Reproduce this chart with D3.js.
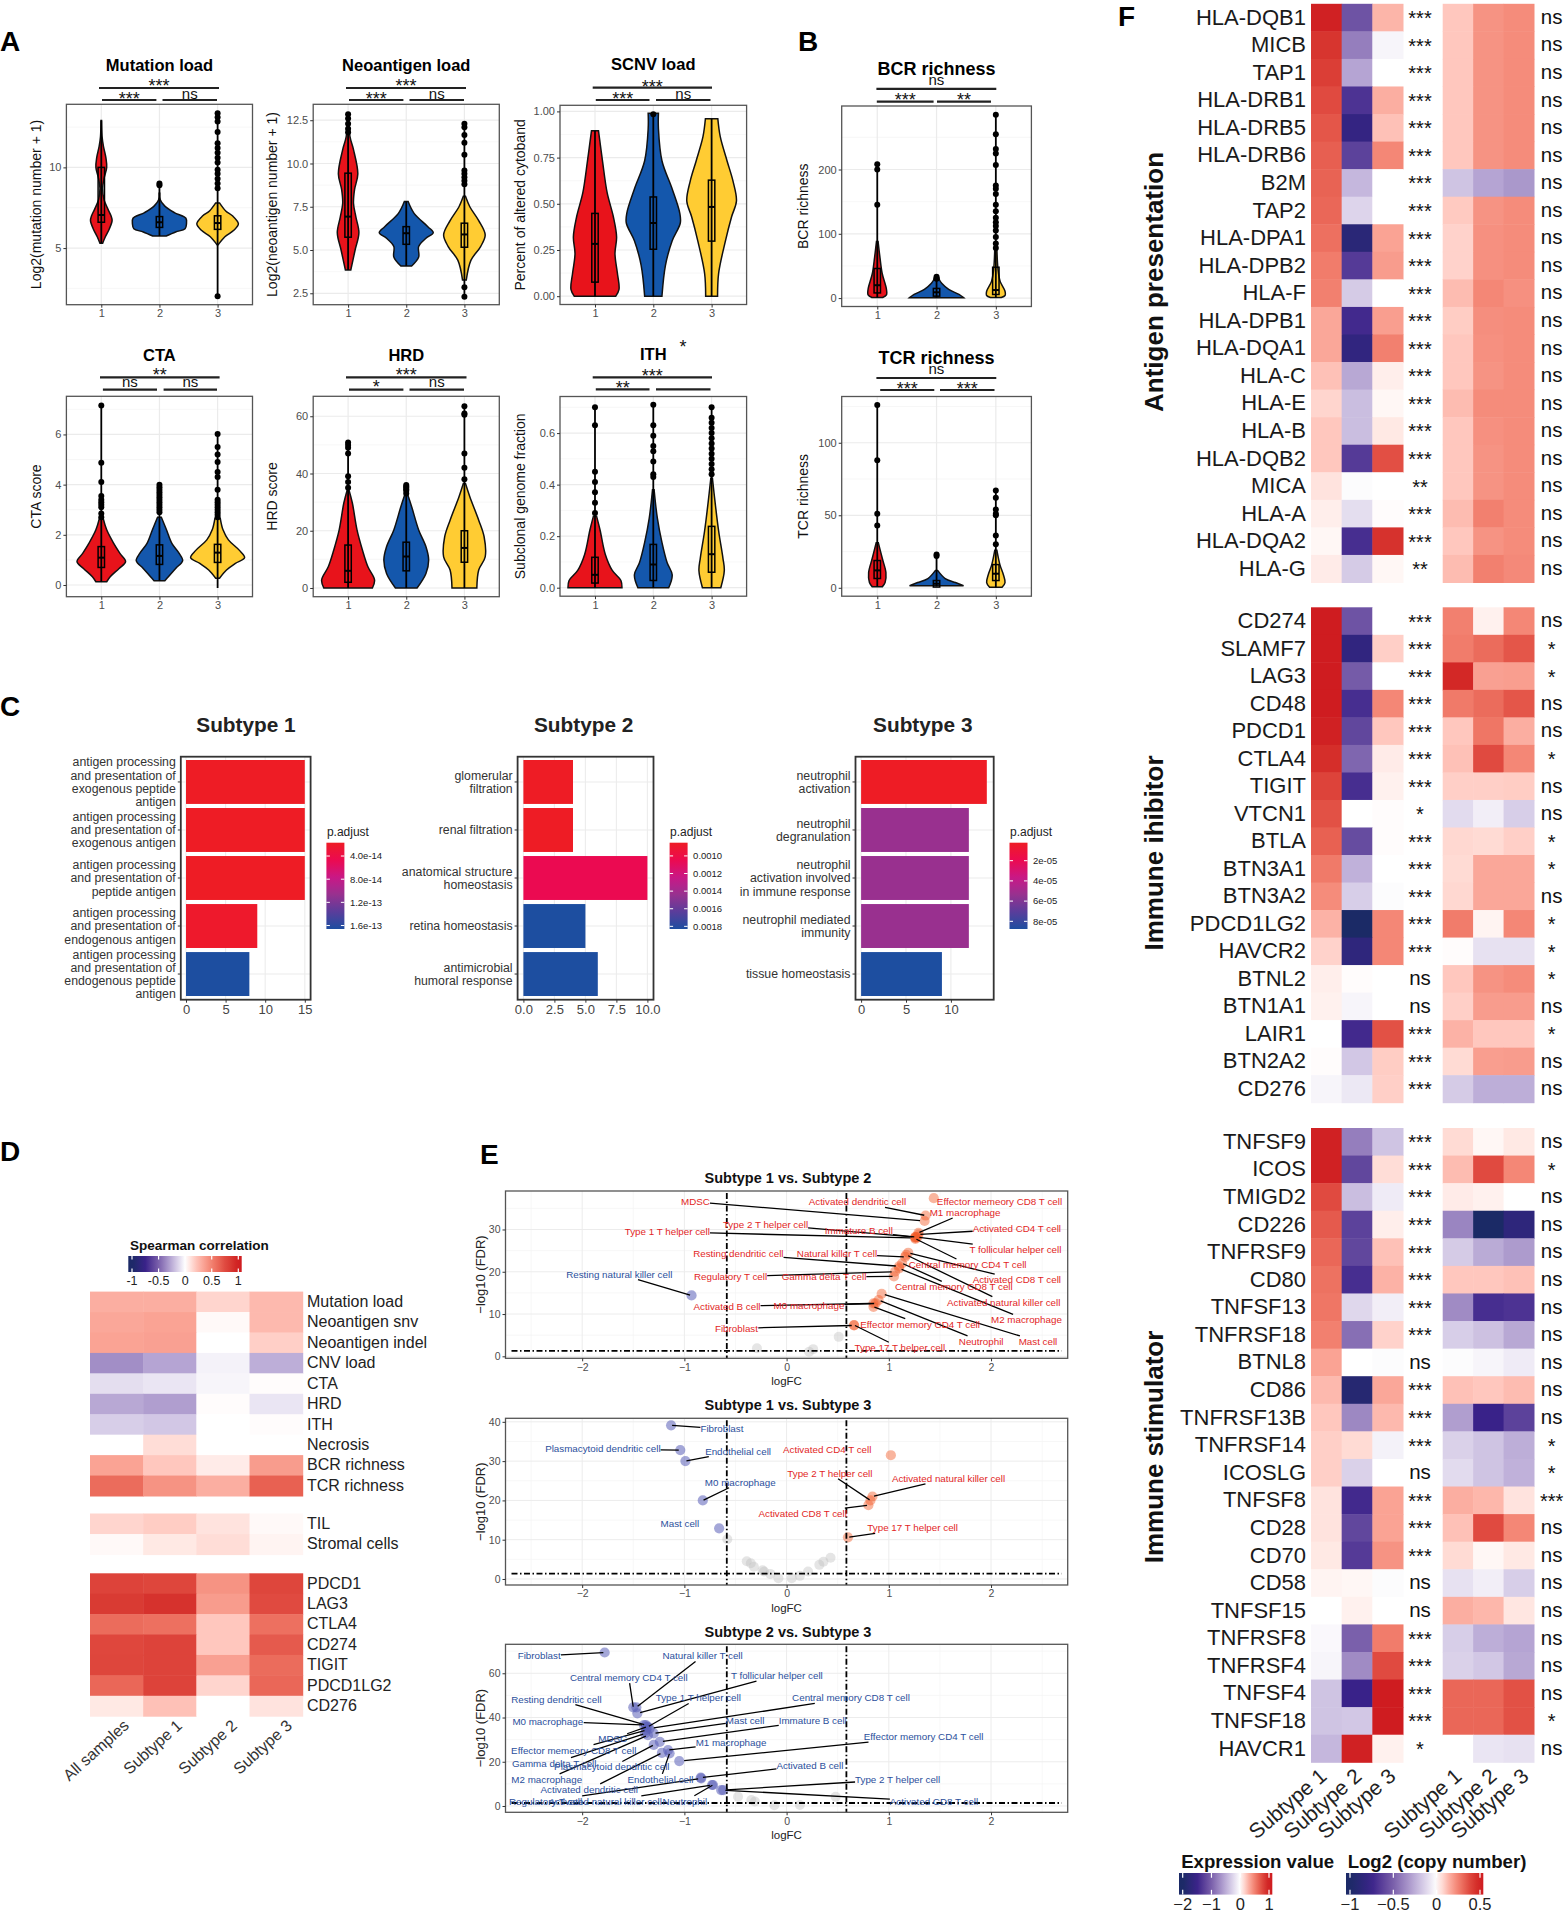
<!DOCTYPE html>
<html>
<head>
<meta charset="utf-8">
<script src="https://cdn.jsdelivr.net/npm/d3@7"></script>
<style>
  html, body { margin: 0; background: #fff; }
  svg { display: block; font-family: "Liberation Sans", Arial, sans-serif; }
  .tick text { font-family: "Liberation Sans", Arial, sans-serif; }
</style>
</head>
<body>
<svg id="fig" width="1564" height="1914"></svg>
<script>
// --- Panel A/B violins: curve = [value, relative half width], box = [q1, median, q3] ---

const mutationViolins = [
  { curve: [[12.9,.01],[11.9,.03],[11.3,.08],[10.6,.17],[10,.2],[9.3,.1],[8.7,.05],[8,.1],[7.4,.25],[7,.36],[6.7,.4],[6.2,.3],[5.7,.15],[5.3,.05]],
    box: [6.6,7.05,10], whisker: [5.3,12.9], dots: [] },
  { curve: [[8.4,.01],[8,.03],[7.6,.2],[7.2,.55],[6.85,.98],[6.5,1],[6.2,.95],[6,.6],[5.75,.25]],
    box: [6.28,6.6,6.95], whisker: [5.75,9], dots: [9,8.9] },
  { curve: [[7.8,.07],[7.3,.3],[7,.55],[6.5,.77],[6.1,.6],[5.7,.27],[5.2,.02]],
    box: [6.16,6.55,7], whisker: [2.02,13.35], dots: [13.35,13.1,12.85,12.2,11.5,11.2,10.9,10.6,10.3,9.85,9.6,9.3,9,8.7,2.02] }
];
const neoantigenViolins = [
  { curve: [[12.9,.01],[11.55,.07],[10.8,.2],[9.4,.36],[8.5,.24],[7.7,.2],[6.9,.29],[6,.4],[5,.26],[3.85,.1]],
    box: [5.74,6.93,9.44], whisker: [3.85,12.9], dots: [12.85,12.6,12.3,12,11.8] },
  { curve: [[7.8,.07],[7.12,.29],[6.35,.8],[6,1],[5.68,.73],[5.2,.46],[4.6,.46],[4.08,.2]],
    box: [5.33,5.97,6.35], whisker: [4.08,7.8], dots: [] },
  { curve: [[8.1,.04],[7.5,.2],[6.7,.53],[5.87,.77],[5.2,.6],[4.4,.24],[3.27,.07]],
    box: [5.16,5.9,6.55], whisker: [2.3,12.3], dots: [12.3,12.1,11.65,11.2,10.5,9.6,9.4,9.2,9,8.8,2.85,2.3] }
];
const scnvViolins = [
  { curve: [[.895,.13],[.73,.28],[.56,.45],[.43,.68],[.32,.8],[.23,.74],[.124,.83],[.037,.89],[0,.77]],
    box: [.076,.283,.448], whisker: [0,.895], dots: [] },
  { curve: [[.99,.19],[.906,.19],[.733,.32],[.58,.7],[.45,.98],[.396,1],[.3,.7],[.167,.45],[0,.32]],
    box: [.254,.396,.537], whisker: [0,.99], dots: [.985] },
  { curve: [[.96,.23],[.863,.32],[.733,.57],[.624,.79],[.515,.92],[.43,.74],[.298,.51],[.124,.26],[0,.22]],
    box: [.298,.483,.628], whisker: [0,.96], dots: [] }
];
const ctaViolins = [
  { curve: [[2.65,.07],[2.2,.2],[1.66,.46],[1.26,.69],[.93,.9],[.66,.66],[.33,.33],[.13,.2]],
    box: [.7,1.09,1.53], whisker: [.13,7.15], dots: [7.15,4.87,4.1,3.55,3.4,3.3,3.2,3.1,2.85,2.7] },
  { curve: [[2.7,.07],[2.2,.26],[1.66,.46],[1.26,.73],[.97,.86],[.66,.6],[.33,.33],[.17,.2]],
    box: [.82,1.16,1.6], whisker: [.17,4], dots: [4,3.9,3.8,3.7,3.6,3.5,3.4,3.3,3.2,3.1,3,2.9] },
  { curve: [[2.65,.1],[2.2,.2],[1.8,.4],[1.4,.79],[1.09,1],[.86,.66],[.6,.33],[.27,.07]],
    box: [.9,1.29,1.62], whisker: [-.12,6], dots: [6.02,5.5,5.2,4.9,4.5,4.3,3.8,3.4,3.3,3.2,3.1,3,2.9,2.8,2.7] }
];
const hrdViolins = [
  { curve: [[34,.04],[29.6,.16],[20.3,.33],[13.3,.53],[7.5,.73],[2.8,.98],[0,.9]],
    box: [2,6,15], whisker: [0,51], dots: [50.8,50,49,47,39,37,35] },
  { curve: [[33,.04],[28.4,.2],[20.3,.46],[14.4,.73],[9.8,.83],[5.1,.73],[0,.4]],
    box: [6,11,16], whisker: [0,36], dots: [36,35.5,35,34.5,34,33] },
  { curve: [[36.5,.04],[31.9,.2],[23.7,.53],[17.9,.73],[10.9,.77],[6.3,.53],[0,.46]],
    box: [9,14,20], whisker: [0,63.5], dots: [63.5,61,60.5,47,42,38] }
];
const ithViolins = [
  { curve: [[.277,.06],[.223,.19],[.13,.38],[.067,.64],[.028,.96],[0,1]],
    box: [.018,.05,.118], whisker: [0,.7], dots: [.7,.63,.45,.41,.37,.33,.29] },
  { curve: [[.38,.03],[.27,.15],[.176,.32],[.098,.51],[.05,.7],[0,.57]],
    box: [.028,.09,.168], whisker: [0,.71], dots: [.71,.63,.59,.55,.53,.49,.44,.43] },
  { curve: [[.425,.03],[.33,.13],[.22,.26],[.114,.42],[.067,.47],[0,.34]],
    box: [.06,.13,.238], whisker: [0,.7], dots: [.7,.66,.64,.62,.6,.58,.56,.54,.52,.5,.48,.46,.44] }
];
const bcrViolins = [
  { curve: [[88,.03],[63,.1],[38.6,.18],[13.7,.34],[5,.34],[1,.2]],
    box: [8,20,46], whisker: [1,208], dots: [208,200,145] },
  { curve: [[32,.06],[23,.19],[13.7,.45],[5.6,.83],[.6,1]],
    box: [3,9,15], whisker: [.6,33], dots: [33,31,30] },
  { curve: [[76,.04],[45,.08],[26,.16],[10.6,.34],[4,.34],[1,.2]],
    box: [5.6,12.5,48], whisker: [1,285], dots: [285,255,232,225,207,175,170,162,145,135,125,118,112,105,95,85,78] }
];
const tcrViolins = [
  { curve: [[31,.04],[20,.19],[10.5,.32],[3.6,.29],[.8,.19]],
    box: [6.4,12,18.8], whisker: [.8,126], dots: [126,88,51,43] },
  { curve: [[12,.04],[6.4,.32],[3.6,.7],[1.4,1]],
    box: [.5,2.8,5], whisker: [1,23], dots: [23,22] },
  { curve: [[25.8,.04],[16,.15],[9,.28],[3.6,.34],[.3,.23]],
    box: [5,9.7,16], whisker: [.3,67], dots: [67,62,54,51,50,36,30] }
];

// --- Panel C bars ---

const goTerms1 = [
  ['antigen processing','and presentation of','exogenous peptide','antigen'],
  ['antigen processing','and presentation of','exogenous antigen'],
  ['antigen processing','and presentation of','peptide antigen'],
  ['antigen processing','and presentation of','endogenous antigen'],
  ['antigen processing','and presentation of','endogenous peptide','antigen']
];
const goCounts1 = [15, 15, 15, 9, 8];
const goPadj1 = [1.7e-14, 1.7e-14, 1.7e-14, 2.2e-14, 1.66e-13];
const goLegend1 = [4e-14, 8e-14, 1.2e-13, 1.6e-13];
const goLegendText1 = ['4.0e-14', '8.0e-14', '1.2e-13', '1.6e-13'];

const goTerms2 = [
  ['glomerular','filtration'],
  ['renal filtration'],
  ['anatomical structure','homeostasis'],
  ['retina homeostasis'],
  ['antimicrobial','humoral response']
];
const goCounts2 = [4, 4, 10, 5, 6];
const goPadj2 = [.00085, .00085, .00105, .00183, .00183];
const goLegend2 = [.001, .0012, .0014, .0016, .0018];
const goLegendText2 = ['0.0010', '0.0012', '0.0014', '0.0016', '0.0018'];

const goTerms3 = [
  ['neutrophil','activation'],
  ['neutrophil','degranulation'],
  ['neutrophil','activation involved','in immune response'],
  ['neutrophil mediated','immunity'],
  ['tissue homeostasis']
];
const goCounts3 = [14, 12, 12, 12, 9];
const goPadj3 = [2.2e-6, 5.3e-5, 5.3e-5, 5.3e-5, 8.76e-5];
const goLegend3 = [2e-5, 4e-5, 6e-5, 8e-5];
const goLegendText3 = ['2e-05', '4e-05', '6e-05', '8e-05'];

// --- Panel D heatmap ---

const corrCols = ['All samples', 'Subtype 1', 'Subtype 2', 'Subtype 3'];
const corrRowsA = ['Mutation load','Neoantigen snv','Neoantigen indel','CNV load','CTA','HRD','ITH','Necrosis','BCR richness','TCR richness'];
const corrValsA = [
  [.3,.3,.15,.25],[.33,.35,.02,.25],[.35,.36,0,.17],[-.35,-.28,-.04,-.25],[-.1,-.08,-.03,.01],
  [-.27,-.3,.01,-.08],[-.15,-.17,0,.01],[0,.12,0,0],[.35,.2,.07,.38],[.6,.42,.3,.65]
];
const corrRowsB = ['TIL', 'Stromal cells'];
const corrValsB = [[.15,.18,.1,.02],[.02,.08,.12,.04]];
const corrRowsC = ['PDCD1','LAG3','CTLA4','CD274','TIGIT','PDCD1LG2','CD276'];
const corrValsC = [
  [.8,.78,.42,.78],[.85,.9,.38,.75],[.6,.58,.2,.58],[.77,.8,.2,.68],
  [.78,.8,.36,.6],[.62,.8,.15,.62],[.08,.22,0,.1]
];

// --- Panel E volcanoes: [cell, logFC, -log10 FDR]; spots = [cell, label logFC, label FDR, anchor, draw segment] ---

const volcano1 = [
  ['Effector memeory CD8 T cell',1.44,37.4],['Activated dendritic cell',1.36,33.3],['MDSC',1.35,32],['M1 macrophage',1.29,29.2],
  ['Activated CD4 T cell',1.29,28.8],['Type 2 T helper cell',1.26,28.2],['Immature  B cell',1.26,28.2],['Type 1 T helper cell',1.26,28],
  ['T follicular helper cell',1.28,28.2],['Central memory CD4 T cell',1.26,27.8],['Natural killer T cell',1.16,23.5],
  ['Activated CD8 T cell',1.19,24.5],['Activated natural killer cell',1.17,24],['Resting dendritic cell',1.1,21.3],
  ['Central memory CD8 T cell',1.13,22],['M2 macrophage',1.1,20.8],['Regulatory T cell',1.06,20],['Gamma delta T cell',1.05,18.9],
  ['Mast cell',.93,14.8],['Neutrophil',.9,13.3],['Activated B cell',.85,12.5],['M0 macrophage',.87,12.5],
  ['Effector memory CD4 T cell',.85,11.7],['Fibroblast',.66,7.3],['Type 17 T helper cell',.66,7.4],['Resting natural killer cell',-.93,14.4]
];
const volcanoGray1 = [[.51,4.6],[.26,1.7],[.22,1.1],[-.29,1.9]];
const labelSpots1 = [
  ['Effector memeory CD8 T cell',1.47,36.5,'start',false],['Activated dendritic cell',1.17,36.5,'end',true],['MDSC',-.75,36.5,'end',true],
  ['M1 macrophage',1.4,34,'start',true],['Activated CD4 T cell',1.82,30.2,'start',true],['Type 2 T helper cell',.21,31.2,'end',true],
  ['Immature  B cell',1.04,29.7,'end',true],['Type 1 T helper cell',-.75,29.4,'end',true],['T follicular helper cell',1.79,25.2,'start',true],
  ['Central memory CD4 T cell',1.195,21.7,'start',true],['Natural killer T cell',.885,24.3,'end',true],['Activated CD8 T cell',1.82,18.1,'start',true],
  ['Activated natural killer cell',1.57,12.8,'start',true],['Resting dendritic cell',-.03,24.2,'end',true],['Central memory CD8 T cell',1.06,16.4,'start',true],
  ['M2 macrophage',2,8.6,'start',true],['Regulatory T cell',-.19,18.8,'end',true],['Gamma delta T cell',.78,18.8,'end',true],
  ['Mast cell',2.27,3.5,'start',true],['Neutrophil',1.685,3.5,'start',true],['Activated B cell',-.255,11.8,'end',true],
  ['M0 macrophage',.565,12,'end',true],['Effector memory CD4 T cell',.72,7.6,'start',true],['Fibroblast',-.28,6.6,'end',true],
  ['Type 17 T helper cell',.665,2,'start',true],['Resting natural killer cell',-1.118,19.4,'end',true]
];

const volcano2 = [
  ['Fibroblast',-1.13,39.1],['Plasmacytoid dendritic cell',-1.04,32.8],['Endothelial cell',-.99,30],['M0 macrophage',-.82,20],['Mast cell',-.66,12.9],
  ['Activated CD4 T cell',1.02,31.5],['Type 2 T helper cell',.82,20],['Activated natural killer cell',.84,21],['Activated CD8 T cell',.8,18.8],['Type 17 T helper cell',.6,10.6]
];
const volcanoGray2 = [[-.58,10.1],[-.39,4.5],[-.35,4],[-.32,3.1],[-.235,2.2],[-.22,1.9],[-.16,1.3],[-.08,.2],[.05,.2],[.13,.8],[.21,1.9],[.32,3.6],[.36,4.4],[.43,5.4]];
const labelSpots2 = [
  ['Fibroblast',-.843,38.2,'start',true],['Plasmacytoid dendritic cell',-1.233,33.1,'end',true],['Endothelial cell',-.797,32.5,'start',true],
  ['M0 macrophage',-.8,24.6,'start',true],['Mast cell',-.855,14.2,'end',false],['Activated CD4 T cell',.83,32.9,'end',false],
  ['Type 2 T helper cell',.84,26.9,'end',true],['Activated natural killer cell',1.03,25.6,'start',true],['Activated CD8 T cell',.59,16.6,'end',true],
  ['Type 17 T helper cell',.79,13,'start',true]
];

const volcano3 = [
  ['Fibroblast',-1.78,69.4],['Natural killer T cell',-1.47,44.6],['Central memory CD4 T cell',-1.5,44.6],['T follicular helper cell',-1.46,41.9],
  ['Resting dendritic cell',-1.376,36.6],['Type 1 T helper cell',-1.357,35.8],['Central memory CD8 T cell',-1.34,35],['M0 macrophage',-1.396,36.6],
  ['Mast cell',-1.3,32.8],['Immature  B cell',-1.24,29],['MDSC',-1.37,35.8],['M1 macrophage',-1.16,25.3],['Effector memeory CD8 T cell',-1.376,34.3],
  ['Effector memory CD4 T cell',-1.05,20.3],['Gamma delta T cell',-1.385,32.8],['Plasmacytoid dendritic cell',-1.3,27.6],['M2 macrophage',-1.357,32],
  ['Endothelial cell',-1.145,23.8],['Activated dendritic cell',-1.22,24],['Activated B cell',-.84,12.8],['Type 2 T helper cell',-.62,7.2],
  ['Activated CD8 T cell',-.64,7.2],['Regulatory T cell',-.835,12.5],['Activated natural killer cell',-.73,9.5],['Neutrophil',-.72,9.5]
];
const volcanoGray3 = [[-.475,4.2],[-.345,2.7],[-.31,2],[-.12,.3],[.13,.45],[.48,4.2]];
const labelSpots3 = [
  ['Fibroblast',-2.21,67.8,'end',true],['Natural killer T cell',-1.214,67.8,'start',true],['Central memory CD4 T cell',-2.12,58,'start',true],
  ['T follicular helper cell',-.545,58.9,'start',true],['Resting dendritic cell',-1.81,48.3,'end',true],['Type 1 T helper cell',-1.28,48.8,'start',true],
  ['Central memory CD8 T cell',.054,48.8,'start',true],['M0 macrophage',-1.99,38.3,'end',true],['Mast cell',-.595,38.6,'start',true],
  ['Immature  B cell',-.077,38.6,'start',true],['MDSC',-1.56,30.3,'end',true],['M1 macrophage',-.89,28.6,'start',true],
  ['Effector memeory CD8 T cell',-1.47,25.2,'end',true],['Effector memory CD4 T cell',.754,31.3,'start',true],['Gamma delta T cell',-1.86,19.3,'end',true],
  ['Plasmacytoid dendritic cell',-1.145,17.6,'end',true],['M2 macrophage',-2,12,'end',true],['Endothelial cell',-.912,12,'end',true],
  ['Activated dendritic cell',-1.454,7.5,'end',true],['Activated B cell',-.1,18.5,'start',true],['Type 2 T helper cell',.67,12,'start',true],
  ['Activated CD8 T cell',1.01,2,'start',true],['Regulatory T cell',-2,2.1,'end',true],['Activated natural killer cell',-1.22,2.1,'end',true],
  ['Neutrophil',-.777,2.1,'end',true]
];

// --- Panel F heatmaps (values on the shared -1..1 colour range) ---

const subtypeCols = ['Subtype 1', 'Subtype 2', 'Subtype 3'];

const antigenGenes = ['HLA-DQB1','MICB','TAP1','HLA-DRB1','HLA-DRB5','HLA-DRB6','B2M','TAP2','HLA-DPA1','HLA-DPB2','HLA-F','HLA-DPB1','HLA-DQA1','HLA-C','HLA-E','HLA-B','HLA-DQB2','MICA','HLA-A','HLA-DQA2','HLA-G'];
const antigenExpr = [[.98,-.55,.27],[.88,-.4,-.03],[.83,-.28,0],[.75,-.68,.3],[.7,-.8,.22],[.66,-.62,.47],[.64,-.22,0],[.62,-.13,0],[.58,-.88,.35],[.52,-.65,.38],[.5,-.16,0],[.33,-.72,.37],[.33,-.82,.5],[.22,-.27,.06],[.15,-.2,.03],[.2,-.2,.08],[.2,-.65,.73],[.1,-.01,0],[.06,-.1,.01],[.03,-.7,.9],[.07,-.16,.03]];
const antigenCopy = [[.2,.42,.45],[.2,.42,.45],[.2,.42,.45],[.2,.42,.45],[.2,.42,.45],[.2,.42,.45],[-.18,-.28,-.32],[.19,.42,.45],[.16,.43,.45],[.16,.43,.45],[.24,.47,.43],[.18,.44,.45],[.2,.43,.45],[.2,.42,.45],[.24,.45,.45],[.2,.43,.45],[.2,.42,.45],[.2,.42,.45],[.24,.5,.45],[.2,.42,.45],[.24,.5,.46]];
const antigenSigExpr = ['***','***','***','***','***','***','***','***','***','***','***','***','***','***','***','***','***','**','***','***','**'];
const antigenSigCopy = ['ns','ns','ns','ns','ns','ns','ns','ns','ns','ns','ns','ns','ns','ns','ns','ns','ns','ns','ns','ns','ns'];

const inhibitorGenes = ['CD274','SLAMF7','LAG3','CD48','PDCD1','CTLA4','TIGIT','VTCN1','BTLA','BTN3A1','BTN3A2','PDCD1LG2','HAVCR2','BTNL2','BTN1A1','LAIR1','BTN2A2','CD276'];
const inhibitorExpr = [[1,-.55,0],[1,-.82,.17],[1,-.52,0],[1,-.7,.47],[.98,-.6,.2],[.92,-.48,.07],[.8,-.7,.05],[.72,0,.01],[.65,-.58,.01],[.53,-.24,0],[.45,-.15,-.01],[.28,-1,.47],[.16,-.84,.47],[.06,.01,0],[.05,-.03,0],[0,-.72,.72],[.01,-.17,.18],[-.03,-.07,.17]];
const inhibitorCopy = [[.5,.05,.47],[.52,.6,.7],[.95,.36,.37],[.53,.6,.7],[.2,.55,.3],[.22,.75,.47],[.17,.17,.18],[-.11,-.05,-.15],[.14,.13,.17],[.13,.33,.33],[.14,.33,.33],[.52,.04,.47],[.01,-.09,-.09],[.2,.42,.45],[.17,.38,.38],[.28,.2,.2],[.13,.37,.38],[-.16,-.25,-.25]];
const inhibitorSigExpr = ['***','***','***','***','***','***','***','*','***','***','***','***','***','ns','ns','***','***','***'];
const inhibitorSigCopy = ['ns','*','*','ns','ns','*','ns','ns','*','*','ns','*','*','*','ns','*','ns','ns'];

const stimulatorGenes = ['TNFSF9','ICOS','TMIGD2','CD226','TNFRSF9','CD80','TNFSF13','TNFRSF18','BTNL8','CD86','TNFRSF13B','TNFRSF14','ICOSLG','TNFSF8','CD28','CD70','CD58','TNFSF15','TNFRSF8','TNFRSF4','TNFSF4','TNFSF18','HAVCR1'];
const stimulatorExpr = [[.98,-.4,-.18],[.98,-.6,.12],[.75,-.2,-.06],[.68,-.62,.06],[.62,-.6,.22],[.57,-.7,.28],[.55,-.12,-.05],[.5,-.45,.16],[.35,0,-.01],[.25,-.92,.33],[.2,-.37,.25],[.17,.13,-.04],[.17,-.14,0],[.1,-.72,.35],[.1,-.6,.35],[.08,-.65,.42],[.04,.03,-.01],[0,.05,0],[-.02,-.5,.52],[-.03,-.36,.75],[-.18,-.75,1],[-.18,-.17,1],[-.22,.98,.05]];
const stimulatorCopy = [[.13,.03,.08],[.24,.75,.47],[.07,.05,0],[-.38,-1,-.85],[-.16,-.26,-.31],[.2,.2,.22],[-.36,-.7,-.68],[-.15,-.19,-.27],[-.01,-.03,-.06],[.22,.2,.24],[-.3,-.75,-.62],[-.14,-.18,-.25],[-.11,-.18,-.24],[.3,.26,.1],[.22,.75,.47],[.13,.03,.08],[-.09,-.05,-.15],[.3,.26,.09],[-.15,-.25,-.28],[-.14,-.17,-.27],[.62,.62,.72],[.62,.62,.72],[0,-.08,-.09]];
const stimulatorSigExpr = ['***','***','***','***','***','***','***','***','ns','***','***','***','ns','***','***','***','ns','ns','***','***','***','***','*'];
const stimulatorSigCopy = ['ns','*','ns','ns','ns','ns','ns','ns','ns','ns','ns','*','*','***','ns','ns','ns','ns','ns','ns','ns','*','ns'];

// --- Shared styling ---

const svg = d3.select('#fig');
const FONT_GREY = '#4d4d4d';
const violinFills = ['#e8131b', '#1457ac', '#ffcc33'];

const heatColor = d3.scaleLinear()
  .domain([-1, -.75, -.5, -.25, 0, .25, .5, .75, 1])
  .range(['#1b2a66', '#392289', '#7a60ab', '#bdaed8', '#ffffff', '#fdb9ae', '#f2806f', '#e04a40', '#cf1c20'])
  .interpolate(d3.interpolateLab)
  .clamp(true);

const padjColor = d3.scaleLinear()
  .domain([0, .2, .42, .6, .8, 1])
  .range(['#ee1c25', '#ec0a50', '#c6198a', '#98318f', '#5a3d9b', '#1d4ea0'])
  .clamp(true);

function txt(g, x, y, s, o = {}) {
  return g.append('text').attr('x', x).attr('y', y).text(s)
    .attr('font-size', o.size || 12)
    .attr('font-weight', o.weight || 'normal')
    .attr('fill', o.fill || '#000')
    .attr('text-anchor', o.anchor || 'middle')
    .attr('dy', o.dy === undefined ? '.35em' : o.dy);
}

function vText(g, x, y, s, o = {}) {
  return txt(g, 0, 0, s, o).attr('transform', `translate(${x},${y}) rotate(-90)`);
}

// asterisks sit high in the em box, so place by glyph centre
function sigText(g, x, yc, s, size) {
  const base = yc + (s.includes('*') ? .55 : .26) * size;
  return txt(g, x, base, s, { size, dy: 0, fill: '#111' });
}

function styleAxis(a, size, fill) {
  a.select('.domain').remove();
  a.selectAll('.tick text').attr('font-size', size).attr('fill', fill);
  a.selectAll('.tick line').attr('stroke', '#333');
}

// --- Panel A/B ---

const violinPanels = [
  { title: 'Mutation load', ylab: 'Log2(mutation number + 1)', vals: mutationViolins, box: [66.4,252.5,104.3,304.7], dom: [1.49,13.91], ticks: [5,10], fmt: 'd',
    titleY: 65, titleSize: 16.5, labX: 35.7, brk: { y: [88,100], t: [82,95], x: [99,219,102,156.4,162.5,217], s: ['***','***','ns'] } },
  { title: 'Neoantigen load', ylab: 'Log2(neoantigen number + 1)', vals: neoantigenViolins, box: [313.2,499.3,104.3,304.7], dom: [1.84,13.42], ticks: [2.5,5,7.5,10,12.5], fmt: '.1f',
    titleY: 65, titleSize: 16.5, labX: 272, brk: { y: [88,100], t: [82,95], x: [346,466,349,403.4,409.5,464], s: ['***','***','ns'] } },
  { title: 'SCNV load', ylab: 'Percent of altered cytoband', vals: scnvViolins, box: [560,746.6,105.3,304.5], dom: [-.045,1.033], ticks: [0,.25,.5,.75,1], fmt: '.2f',
    titleY: 64.3, titleSize: 16.5, labX: 519.6, brk: { y: [87.6,100], t: [82.8,94.8], x: [592.7,712,595.8,649.5,656,710.5], s: ['***','***','ns'] } },
  { title: 'CTA', ylab: 'CTA score', vals: ctaViolins, box: [66.4,252.5,396.3,596.7], dom: [-.466,7.52], ticks: [0,2,4,6], fmt: 'd',
    titleY: 355, titleSize: 16.5, labX: 35.7, brk: { y: [377.3,389.7], t: [371,383], x: [100,219.6,102.9,157,163.6,217], s: ['**','ns','ns'] } },
  { title: 'HRD', ylab: 'HRD score', vals: hrdViolins, box: [313.2,499.3,396.3,596.7], dom: [-3.04,66.97], ticks: [0,20,40,60], fmt: 'd',
    titleY: 355, titleSize: 16.5, labX: 272, brk: { y: [377.3,389.7], t: [371,383], x: [346,466.5,349,403.4,409.5,464], s: ['***','*','ns'] } },
  { title: 'ITH', ylab: 'Subclonal genome fraction', vals: ithViolins, box: [560,746.6,396.5,596.2], dom: [-.033,.742], ticks: [0,.2,.4,.6], fmt: '.1f',
    titleY: 354, titleSize: 16.5, labX: 519.6, brk: { y: [377.3,389.3], t: [371.6,383.7], x: [592.7,712,595.8,649.5,656,710.5], s: ['***','**',''] } },
  { title: 'BCR richness', ylab: 'BCR richness', vals: bcrViolins, box: [841.7,1031.4,106,306.5], dom: [-13.1,298.8], ticks: [0,100,200], fmt: 'd',
    titleY: 69, titleSize: 18, labX: 803.4, brk: { y: [88.8,101.6], t: [81,96], x: [876.4,996.3,876.8,933.6,937,991], s: ['ns','***','**'] } },
  { title: 'TCR richness', ylab: 'TCR richness', vals: tcrViolins, box: [841.7,1031.4,396.5,596.2], dom: [-5.8,131.9], ticks: [0,50,100], fmt: 'd',
    titleY: 357.6, titleSize: 18, labX: 803.4, brk: { y: [378,390], t: [369.6,385], x: [876.4,996.3,880.2,934.3,940,994.5], s: ['ns','***','***'] } }
];

function drawViolinPanel(p) {
  const g = svg.append('g');
  const [x0, x1, y0, y1] = p.box;
  const x = d3.scaleLinear().domain([.4, 3.6]).range([x0, x1]);
  const y = d3.scaleLinear().domain(p.dom).range([y1, y0]);
  const halfWidth = d3.scaleLinear().domain([0, 1]).range([0, 27]);

  // grid
  const step = p.ticks[1] - p.ticks[0];
  const minors = d3.range(-1, p.ticks.length).map(i => p.ticks[0] + (i + .5) * step)
    .filter(v => v > p.dom[0] && v < p.dom[1]);
  g.selectAll('.minor').data(minors).join('line').attr('class', 'minor')
    .attr('x1', x0).attr('x2', x1).attr('y1', d => y(d)).attr('y2', d => y(d))
    .attr('stroke', '#f3f3f3').attr('stroke-width', .7);
  g.selectAll('.major').data(p.ticks).join('line').attr('class', 'major')
    .attr('x1', x0).attr('x2', x1).attr('y1', d => y(d)).attr('y2', d => y(d))
    .attr('stroke', '#ebebeb').attr('stroke-width', 1.2);
  g.selectAll('.majorx').data([1, 2, 3]).join('line').attr('class', 'majorx')
    .attr('y1', y0).attr('y2', y1).attr('x1', d => x(d)).attr('x2', d => x(d))
    .attr('stroke', '#ebebeb').attr('stroke-width', 1.2);

  p.vals.forEach((v, i) => {
    const cx = x(i + 1);
    const area = d3.area().curve(d3.curveCatmullRom)
      .y(d => y(d[0]))
      .x0(d => cx - halfWidth(d[1]))
      .x1(d => cx + halfWidth(d[1]));
    g.append('path').attr('d', area(v.curve))
      .attr('fill', violinFills[i]).attr('stroke', '#111').attr('stroke-width', 1.5);
    g.append('line').attr('x1', cx).attr('x2', cx)
      .attr('y1', y(v.whisker[0])).attr('y2', y(v.whisker[1]))
      .attr('stroke', '#000').attr('stroke-width', 1.8);
    g.selectAll(null).data(v.dots).join('circle')
      .attr('cx', cx).attr('cy', d => y(d)).attr('r', 3).attr('fill', '#000');
    g.append('rect').attr('x', cx - 3.2).attr('width', 6.4)
      .attr('y', y(v.box[2])).attr('height', y(v.box[0]) - y(v.box[2]))
      .attr('fill', 'none').attr('stroke', '#000').attr('stroke-width', 1.5);
    g.append('line').attr('x1', cx - 3.2).attr('x2', cx + 3.2)
      .attr('y1', y(v.box[1])).attr('y2', y(v.box[1]))
      .attr('stroke', '#000').attr('stroke-width', 2);
  });

  g.append('rect').attr('x', x0).attr('y', y0).attr('width', x1 - x0).attr('height', y1 - y0)
    .attr('fill', 'none').attr('stroke', '#555').attr('stroke-width', 1.3);

  const ax = g.append('g').attr('transform', `translate(${x0},0)`)
    .call(d3.axisLeft(y).tickValues(p.ticks).tickFormat(d3.format(p.fmt)).tickSize(3).tickPadding(2));
  styleAxis(ax, 11, FONT_GREY);
  const bx = g.append('g').attr('transform', `translate(0,${y1})`)
    .call(d3.axisBottom(x).tickValues([1, 2, 3]).tickFormat(d3.format('d')).tickSize(3).tickPadding(2));
  styleAxis(bx, 11, FONT_GREY);

  txt(g, (x0 + x1) / 2, p.titleY, p.title, { size: p.titleSize, weight: 'bold' });
  vText(g, p.labX, (y0 + y1) / 2, p.ylab, { size: 14, fill: '#111' });

  // significance brackets
  const b = p.brk;
  [[b.x[0], b.x[1], b.y[0]], [b.x[2], b.x[3], b.y[1]], [b.x[4], b.x[5], b.y[1]]].forEach(s => {
    g.append('line').attr('x1', s[0]).attr('x2', s[1]).attr('y1', s[2]).attr('y2', s[2])
      .attr('stroke', '#222').attr('stroke-width', 2.2);
  });
  sigText(g, (b.x[0] + b.x[1]) / 2, b.t[0], b.s[0], b.s[0] === 'ns' ? 15 : 18);
  sigText(g, (b.x[2] + b.x[3]) / 2, b.t[1], b.s[1], b.s[1] === 'ns' ? 15 : 18);
  if (b.s[2]) sigText(g, (b.x[4] + b.x[5]) / 2, b.t[1], b.s[2], b.s[2] === 'ns' ? 15 : 18);
}

violinPanels.forEach(drawViolinPanel);
sigText(svg, 683, 343.5, '*', 18);

// --- Panel C ---

const barPanels = [
  { title: 'Subtype 1', titleX: 246, terms: goTerms1, counts: goCounts1, padj: goPadj1, box: [180.8,310.6], zero: 186, perUnit: 7.92, ticks: [0,5,10,15], fmt: 'd',
    legX: 326.4, legDom: [1.7e-14,1.66e-13], legVals: goLegend1, legText: goLegendText1 },
  { title: 'Subtype 2', titleX: 583.7, terms: goTerms2, counts: goCounts2, padj: goPadj2, box: [517.6,653.5], zero: 523.4, perUnit: 12.4, ticks: [0,2.5,5,7.5,10], fmt: '.1f',
    legX: 669.6, legDom: [.00085,.00183], legVals: goLegend2, legText: goLegendText2 },
  { title: 'Subtype 3', titleX: 922.8, terms: goTerms3, counts: goCounts3, padj: goPadj3, box: [855.5,993.7], zero: 861.1, perUnit: 8.98, ticks: [0,5,10], fmt: 'd',
    legX: 1009.5, legDom: [2.2e-6,8.76e-5], legVals: goLegend3, legText: goLegendText3 }
];

const gradC = svg.append('defs').append('linearGradient').attr('id', 'padjGrad')
  .attr('x1', 0).attr('x2', 0).attr('y1', 0).attr('y2', 1);
d3.range(0, 1.01, .1).forEach(t => gradC.append('stop').attr('offset', t).attr('stop-color', padjColor(t)));

function drawBarPanel(p) {
  const g = svg.append('g');
  const [x0, x1] = p.box, y0 = 756.7, y1 = 999.7;
  const x = d3.scaleLinear()
    .domain([(x0 - p.zero) / p.perUnit, (x1 - p.zero) / p.perUnit]).range([x0, x1]);
  const y = d3.scaleBand().domain(d3.range(p.terms.length)).range([760, 996]).paddingInner(.085);
  const colorT = d3.scaleLinear().domain(p.legDom).range([0, 1]);

  g.selectAll('.gx').data(p.ticks).join('line').attr('class', 'gx')
    .attr('x1', d => x(d)).attr('x2', d => x(d)).attr('y1', y0).attr('y2', y1)
    .attr('stroke', '#ececec').attr('stroke-width', 1.1);
  g.selectAll('.gy').data(p.terms).join('line').attr('class', 'gy')
    .attr('x1', x0).attr('x2', x1)
    .attr('y1', (d, i) => y(i) + y.bandwidth() / 2).attr('y2', (d, i) => y(i) + y.bandwidth() / 2)
    .attr('stroke', '#ececec').attr('stroke-width', 1.1);

  g.selectAll('.bar').data(p.counts).join('rect').attr('class', 'bar')
    .attr('x', x(0)).attr('width', d => x(d) - x(0))
    .attr('y', (d, i) => y(i)).attr('height', y.bandwidth())
    .attr('fill', (d, i) => padjColor(colorT(p.padj[i])));

  g.append('rect').attr('x', x0).attr('y', y0).attr('width', x1 - x0).attr('height', y1 - y0)
    .attr('fill', 'none').attr('stroke', '#333').attr('stroke-width', 1.8);

  const bx = g.append('g').attr('transform', `translate(0,${y1})`)
    .call(d3.axisBottom(x).tickValues(p.ticks).tickFormat(d3.format(p.fmt)).tickSize(3).tickPadding(2));
  styleAxis(bx, 13, '#444');

  // term labels, wrapped as in the source
  p.terms.forEach((lines, i) => {
    const cy = y(i) + y.bandwidth() / 2;
    g.append('line').attr('x1', x0 - 3).attr('x2', x0).attr('y1', cy).attr('y2', cy).attr('stroke', '#333');
    lines.forEach((ln, j) => {
      txt(g, x0 - 5, cy + (j - (lines.length - 1) / 2) * 13.2, ln, { size: 12.3, anchor: 'end', fill: '#333' });
    });
  });

  txt(g, p.titleX, 725, p.title, { size: 20.8, weight: 'bold', fill: '#222' });

  // colour legend
  const legH = d3.scaleLinear().domain(p.legDom).range([842.7, 929]);
  txt(g, p.legX + .5, 832, 'p.adjust', { size: 12, anchor: 'start', fill: '#222' });
  g.append('rect').attr('x', p.legX).attr('y', 842.7).attr('width', 18).attr('height', 86.3).attr('fill', 'url(#padjGrad)');
  p.legVals.forEach((v, i) => {
    const ty = legH(v);
    g.append('line').attr('x1', p.legX).attr('x2', p.legX + 3.5).attr('y1', ty).attr('y2', ty).attr('stroke', '#fff');
    g.append('line').attr('x1', p.legX + 14.5).attr('x2', p.legX + 18).attr('y1', ty).attr('y2', ty).attr('stroke', '#fff');
    txt(g, p.legX + 23.5, ty, p.legText[i], { size: 9.5, anchor: 'start', fill: '#222' });
  });
}

barPanels.forEach(drawBarPanel);

// --- Heatmap helper (D and F) ---

function drawHeat(g, rows, cols, vals, x0, x1, y0, y1) {
  const x = d3.scaleBand().domain(cols).range([x0, x1]);
  const y = d3.scaleBand().domain(rows).range([y0, y1]);
  rows.forEach((r, i) => {
    g.selectAll(null).data(vals[i]).join('rect')
      .attr('x', (d, j) => x(cols[j])).attr('y', y(r))
      .attr('width', x.bandwidth() + .5).attr('height', y.bandwidth() + .5)
      .attr('fill', d => heatColor(d));
  });
  return { x, y };
}

function colorBar(id, g, x0, x1, y0, y1, tickVals, tickText, tickX, norm, labelY, labelSize) {
  const pos = d3.scaleLinear().domain([tickVals[0], tickVals[tickVals.length - 1]])
    .range([tickX[0], tickX[1]]);
  const grad = svg.select('defs').append('linearGradient').attr('id', id);
  d3.range(0, 1.001, .05).forEach(t => {
    const v = pos.invert(x0 + t * (x1 - x0));
    grad.append('stop').attr('offset', t).attr('stop-color', heatColor(norm(v)));
  });
  g.append('rect').attr('x', x0).attr('y', y0).attr('width', x1 - x0).attr('height', y1 - y0)
    .attr('fill', `url(#${id})`);
  tickVals.forEach((v, i) => {
    const tx = pos(v), tick = (y1 - y0) * .22;
    g.append('line').attr('x1', tx).attr('x2', tx).attr('y1', y0).attr('y2', y0 + tick).attr('stroke', '#fff').attr('stroke-width', 1.2);
    g.append('line').attr('x1', tx).attr('x2', tx).attr('y1', y1 - tick).attr('y2', y1).attr('stroke', '#fff').attr('stroke-width', 1.2);
    txt(g, tx, labelY, tickText[i], { size: labelSize, fill: '#222' });
  });
}

// --- Panel D ---

{
  const g = svg.append('g');
  const blocks = [
    [corrRowsA, corrValsA, 1291.6, 1496],
    [corrRowsB, corrValsB, 1513.5, 1554.6],
    [corrRowsC, corrValsC, 1573.3, 1716.2]
  ];
  blocks.forEach(([rows, vals, y0, y1]) => {
    const { y } = drawHeat(g, rows, corrCols, vals, 90, 302.7, y0, y1);
    const a = g.append('g').attr('transform', 'translate(303,0)')
      .call(d3.axisRight(y).tickSize(0).tickPadding(4));
    styleAxis(a, 16, '#222');
  });
  const colEnds = d3.scalePoint().domain(corrCols).range([128, 293]);
  corrCols.forEach(c => {
    txt(g, 0, 0, c, { size: 16, anchor: 'end', fill: '#333', dy: 0 })
      .attr('transform', `translate(${c === 'All samples' ? 130 : colEnds(c)},1727) rotate(-42)`);
  });
  txt(g, 199.3, 1245, 'Spearman correlation', { size: 13.5, weight: 'bold', fill: '#111' });
  colorBar('corrGrad', g, 128.3, 241.7, 1256, 1272, [-1,-.5,0,.5,1], ['-1','-0.5','0','0.5','1'], [132,238.3], v => v, 1280.5, 12.5);
}

// --- Panel E ---

function drawVolcano(p) {
  const g = svg.append('g');
  const x0 = 505.5, x1 = 1067.7;
  const x = d3.scaleLinear().domain([-2.75, 2.75]).range([x0, x1]);
  const y = d3.scaleLinear().domain(p.dom).range([p.y1, p.y0]);
  const xTicks = [-2, -1, 0, 1, 2];

  const minorX = d3.range(-2.5, 3, 1), step = p.ticks[1] - p.ticks[0];
  const minorY = p.ticks.map(t => t + step / 2).filter(v => v < p.dom[1]);
  g.selectAll('.mx').data(minorX).join('line').attr('class', 'mx')
    .attr('x1', d => x(d)).attr('x2', d => x(d)).attr('y1', p.y0).attr('y2', p.y1)
    .attr('stroke', '#f4f4f4').attr('stroke-width', .7);
  g.selectAll('.my').data(minorY).join('line').attr('class', 'my')
    .attr('x1', x0).attr('x2', x1).attr('y1', d => y(d)).attr('y2', d => y(d))
    .attr('stroke', '#f4f4f4').attr('stroke-width', .7);
  g.selectAll('.gx').data(xTicks).join('line').attr('class', 'gx')
    .attr('x1', d => x(d)).attr('x2', d => x(d)).attr('y1', p.y0).attr('y2', p.y1)
    .attr('stroke', '#ececec');
  g.selectAll('.gy').data(p.ticks).join('line').attr('class', 'gy')
    .attr('x1', x0).attr('x2', x1).attr('y1', d => y(d)).attr('y2', d => y(d))
    .attr('stroke', '#ececec');

  g.selectAll('.gray').data(p.gray).join('circle').attr('class', 'gray')
    .attr('cx', d => x(d[0])).attr('cy', d => y(d[1])).attr('r', 5)
    .attr('fill', '#bdbdbd').attr('fill-opacity', .4);
  const dotColor = d => d[1] > 0 ? '#f15a29' : '#5a5fb8';
  g.selectAll('.pt').data(p.pts).join('circle').attr('class', 'pt')
    .attr('cx', d => x(d[1])).attr('cy', d => y(d[2])).attr('r', 5.1)
    .attr('fill', dotColor).attr('fill-opacity', d => d[1] > 0 ? .45 : .55);

  [-.585, .585].forEach(v => {
    g.append('line').attr('x1', x(v)).attr('x2', x(v)).attr('y1', p.y0 + 2).attr('y2', p.y1)
      .attr('stroke', '#000').attr('stroke-width', 1.8).attr('stroke-dasharray', '6 2.5 1.5 2.5');
  });
  g.append('line').attr('x1', x0 + 6).attr('x2', x1 - 6).attr('y1', y(p.hline)).attr('y2', y(p.hline))
    .attr('stroke', '#000').attr('stroke-width', 1.8).attr('stroke-dasharray', '6 2.5 1.5 2.5');

  // repelled labels: segment runs from the point to the edge of the label box
  const byName = new Map(p.pts.map(d => [d[0], d]));
  p.spots.forEach(([name, lx, ly, anchor, hasLine]) => {
    const pt = byName.get(name);
    const t = txt(g, x(lx), y(ly), name, { size: 9.8, anchor, fill: pt[1] > 0 ? '#e21f26' : '#2b4f9c' });
    if (!hasLine) return;
    const b = t.node().getBBox();
    const cx = b.x + b.width / 2, cy = b.y + b.height / 2;
    const px = x(pt[1]), py = y(pt[2]);
    const dx = px - cx, dy = py - cy;
    const s = Math.min(dx ? (b.width / 2) / Math.abs(dx) : 1e9, dy ? (b.height / 2) / Math.abs(dy) : 1e9);
    g.insert('line', 'text')
      .attr('x1', cx + dx * s).attr('y1', cy + dy * s).attr('x2', px - dx * .02).attr('y2', py - dy * .02)
      .attr('stroke', '#000').attr('stroke-width', 1.3);
  });

  g.append('rect').attr('x', x0).attr('y', p.y0).attr('width', x1 - x0).attr('height', p.y1 - p.y0)
    .attr('fill', 'none').attr('stroke', '#555').attr('stroke-width', 1.3);
  const ax = g.append('g').attr('transform', `translate(${x0},0)`)
    .call(d3.axisLeft(y).tickValues(p.ticks).tickSize(3).tickPadding(2));
  styleAxis(ax, 10.5, FONT_GREY);
  const bx = g.append('g').attr('transform', `translate(0,${p.y1})`)
    .call(d3.axisBottom(x).tickValues(xTicks).tickFormat(d3.format('d')).tickSize(3).tickPadding(2));
  styleAxis(bx, 10.5, FONT_GREY);
  bx.selectAll('.tick text').text(d => d < 0 ? '\u2212' + Math.abs(d) : d);
  ax.selectAll('.tick text').text(d => d);

  txt(g, 788, p.titleY, p.title, { size: 14.5, weight: 'bold', fill: '#111' });
  txt(g, 786.6, p.xlabY, 'logFC', { size: 11.5, fill: '#222' });
  vText(g, 480.6, p.ylabY, '\u2212log10 (FDR)', { size: 13, fill: '#222' });
}

[
  { title: 'Subtype 1 vs. Subtype 2', y0: 1191, y1: 1358.3, dom: [-.47,39.1], ticks: [0,10,20,30], hline: 1.3, titleY: 1177.7, xlabY: 1380.7, ylabY: 1274.5,
    pts: volcano1, gray: volcanoGray1, spots: labelSpots1 },
  { title: 'Subtype 1 vs. Subtype 3', y0: 1418.3, y1: 1585, dom: [-1.53,40.9], ticks: [0,10,20,30,40], hline: 1.36, titleY: 1405, xlabY: 1608, ylabY: 1501.7,
    pts: volcano2, gray: volcanoGray2, spots: labelSpots2 },
  { title: 'Subtype 2 vs. Subtype 3', y0: 1644.3, y1: 1812.3, dom: [-2.85,73.1], ticks: [0,20,40,60], hline: 1.36, titleY: 1631.7, xlabY: 1835, ylabY: 1728,
    pts: volcano3, gray: volcanoGray3, spots: labelSpots3 }
].forEach(drawVolcano);

// --- Panel F ---

const heatBlocks = [
  { name: 'Antigen presentation', nameY: 282, genes: antigenGenes, expr: antigenExpr, copy: antigenCopy, sigE: antigenSigExpr, sigC: antigenSigCopy, y0: 3.8, y1: 582.5 },
  { name: 'Immune ihibitor', nameY: 853, genes: inhibitorGenes, expr: inhibitorExpr, copy: inhibitorCopy, sigE: inhibitorSigExpr, sigC: inhibitorSigCopy, y0: 607.3, y1: 1102.7 },
  { name: 'Immune stimulator', nameY: 1447, genes: stimulatorGenes, expr: stimulatorExpr, copy: stimulatorCopy, sigE: stimulatorSigExpr, sigC: stimulatorSigCopy, y0: 1128, y1: 1762.3 }
];

heatBlocks.forEach(b => {
  const g = svg.append('g');
  const { y } = drawHeat(g, b.genes, subtypeCols, b.expr, 1311, 1403, b.y0, b.y1);
  drawHeat(g, b.genes, subtypeCols, b.copy, 1442.7, 1534, b.y0, b.y1);
  const a = g.append('g').attr('transform', 'translate(1311,0)')
    .call(d3.axisLeft(y).tickSize(0).tickPadding(5));
  styleAxis(a, 22, '#1a1a1a');
  b.genes.forEach((gene, i) => {
    const cy = y(gene) + y.bandwidth() / 2;
    const sig = (s, x) => sigText(g, x, cy + (s === 'ns' ? 1 : -3.5), s, s === 'ns' ? 20.5 : 20);
    sig(b.sigE[i], 1420);
    sig(b.sigC[i], 1551.7);
  });
  vText(g, 1154, b.nameY, b.name, { size: 26, weight: 'bold', fill: '#111' });
});

{
  const g = svg.append('g');
  const ends = [[1328,subtypeCols[0]],[1363,subtypeCols[1]],[1397,subtypeCols[2]],[1463,subtypeCols[0]],[1498,subtypeCols[1]],[1530,subtypeCols[2]]];
  ends.forEach(([ex, s]) => {
    txt(g, 0, 0, s, { size: 21, anchor: 'end', fill: '#222', dy: 0 })
      .attr('transform', `translate(${ex},1778) rotate(-41)`);
  });
  txt(g, 1257.7, 1861, 'Expression value', { size: 18.6, weight: 'bold', fill: '#111' });
  colorBar('exprGrad', g, 1179, 1272.3, 1873, 1894.6, [-2,-1,0,1], ['\u22122','\u22121','0','1'], [1182.7,1269],
    v => v < 0 ? v / 2 : v, 1904, 16.5);
  txt(g, 1437, 1861, 'Log2 (copy number)', { size: 18.6, weight: 'bold', fill: '#111' });
  colorBar('copyGrad', g, 1346, 1483.3, 1873, 1894.6, [-1,-.5,0,.5], ['\u22121','\u22120.5','0','0.5'], [1350,1480],
    v => v < 0 ? v : v * 2, 1904, 16.5);
}

// --- Panel letters ---

[['A',0,41],['B',798,41],['C',0,706],['D',0,1151],['E',480,1154],['F',1118,16]].forEach(([s, x, y]) => {
  txt(svg, x, y, s, { size: 28, weight: 'bold', anchor: 'start' });
});
</script>
</body>
</html>
